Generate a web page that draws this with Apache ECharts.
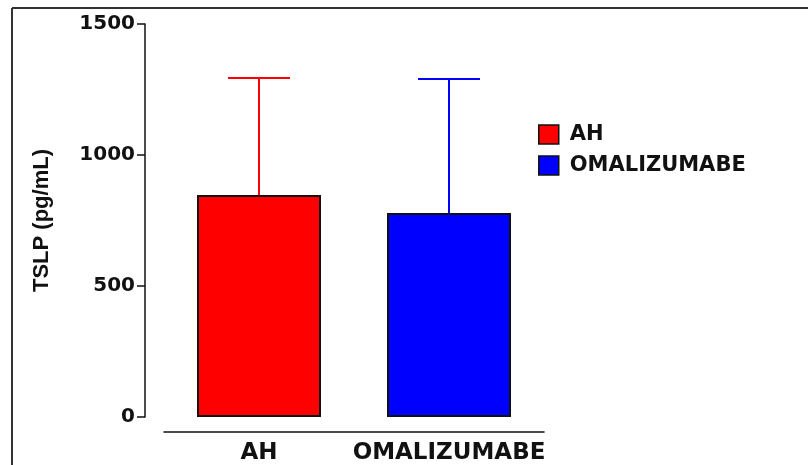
<!DOCTYPE html>
<html>
<head>
<meta charset="utf-8">
<script src="https://cdn.jsdelivr.net/npm/echarts@6/dist/echarts.min.js"></script>
<style>
  html, body { margin: 0; padding: 0; background: #fff; }
  #chart { width: 808px; height: 465px; }
</style>
</head>
<body>
<div id="chart"></div>
<script>
// 数据
const categories = ["AH", "OMALIZUMABE"];
const meanValues = [847, 779];
const sdValues = [447, 511];
const barColors = ["#ff0000", "#0000ff"];
const yTicks = [0, 500, 1000, 1500];

const myChart = echarts.init(document.getElementById("chart"));
const font = "DejaVu Sans, sans-serif";
const nameFont = "Liberation Sans, Arial, sans-serif";

// 每个组一个系列，方便图例
const barSeries = categories.map((name, i) => ({
  name: name,
  type: "bar",
  barWidth: 124,
  barGap: "-100%",
  data: categories.map((c, j) => (j === i ? meanValues[i] : "-")),
  itemStyle: { color: barColors[i], borderColor: "#111", borderWidth: 2 },
  z: 2,
}));

// 误差线 (mean -> mean + sd)
const errorSeries = {
  type: "custom",
  silent: true,
  z: 3,
  data: categories.map((c, i) => [i, meanValues[i], meanValues[i] + sdValues[i]]),
  renderItem: (params, api) => {
    const i = api.value(0);
    const base = api.coord([i, api.value(1)]);
    const top = api.coord([i, api.value(2)]);
    const half = 31;
    const style = { stroke: barColors[i], lineWidth: 2 };
    return {
      type: "group",
      children: [
        { type: "line", shape: { x1: base[0], y1: base[1], x2: top[0], y2: top[1] }, style },
        { type: "line", shape: { x1: top[0] - half, y1: top[1], x2: top[0] + half, y2: top[1] }, style },
      ],
    };
  },
};

const option = {
  animation: false,
  textStyle: { fontFamily: font },
  grid: { left: 164, right: 264, top: 24, bottom: 48 },
  legend: {
    data: categories,
    orient: "vertical",
    left: 533,
    top: 119,
    icon: "rect",
    itemWidth: 20,
    itemHeight: 19,
    itemGap: 10,
    itemStyle: { borderColor: "#111", borderWidth: 1.5 },
    textStyle: { fontSize: 21, fontWeight: "bold", color: "#111", fontFamily: font, padding: [0, 0, 0, 6] },
  },
  xAxis: {
    type: "category",
    data: categories,
    offset: 15,
    axisLine: { onZero: false, lineStyle: { color: "#111", width: 1.5 } },
    axisTick: { alignWithLabel: true, interval: 0, length: 5, lineStyle: { color: "#111", width: 1.5 } },
    axisLabel: {
      interval: 0, hideOverlap: false,
      fontSize: 23, fontWeight: "bold", color: "#111", margin: 10, fontFamily: font,
    },
  },
  yAxis: {
    type: "value",
    min: yTicks[0],
    max: yTicks[yTicks.length - 1],
    interval: 500,
    offset: 19,
    name: "TSLP (pg/mL)",
    nameLocation: "middle",
    nameGap: 92,
    nameTextStyle: { fontSize: 22, fontWeight: "bold", color: "#111", fontFamily: nameFont },
    axisLine: { show: true, lineStyle: { color: "#111", width: 1.5 } },
    axisTick: { show: true, length: 8, lineStyle: { color: "#111", width: 1.5 } },
    axisLabel: {
      fontSize: 20, fontWeight: "bold", color: "#111", margin: 10, fontFamily: font,
      formatter: (v) => String(v),
    },
    splitLine: { show: false },
  },
  graphic: [
    { type: "line", shape: { x1: 12, y1: 8, x2: 808, y2: 8 }, style: { stroke: "#333", lineWidth: 2 } },
    { type: "line", shape: { x1: 12, y1: 8, x2: 12, y2: 465 }, style: { stroke: "#333", lineWidth: 2 } },
  ],
  series: [...barSeries, errorSeries],
};
myChart.setOption(option);
</script>
</body>
</html>
